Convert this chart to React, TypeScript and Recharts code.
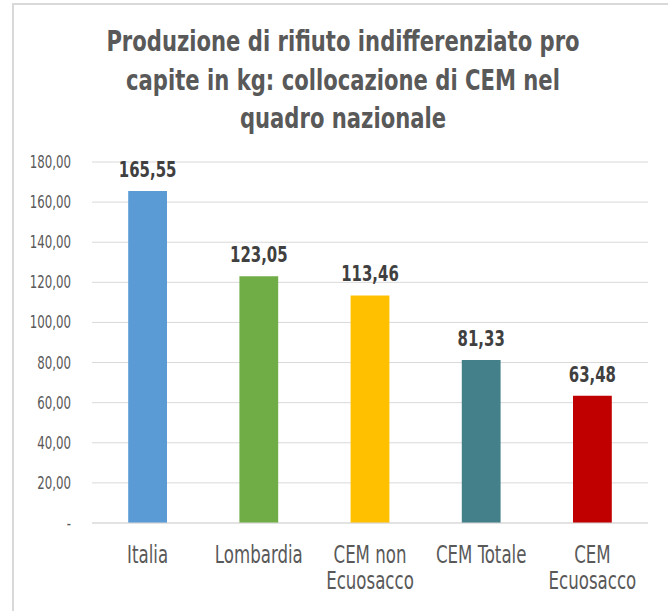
import { Bar, BarChart, CartesianGrid, Cell, LabelList, XAxis, YAxis } from "recharts";

const categories = ["Italia", "Lombardia", "CEM non Ecuosacco", "CEM Totale", "CEM Ecuosacco"];
const values = [165.55, 123.05, 113.46, 81.33, 63.48];
const barColors = ["#5b9bd5", "#70ad47", "#ffc000", "#43808a", "#c00000"];
const yTicks = [0, 20, 40, 60, 80, 100, 120, 140, 160, 180];
const titleLines = [
  "Produzione di rifiuto indifferenziato pro",
  "capite in kg: collocazione di CEM nel",
  "quadro nazionale",
];

const data = categories.map((name, i) => ({ name, value: values[i] }));

// no condensed face available, so squeeze DejaVu horizontally
const FONT = "'DejaVu Sans Condensed', 'DejaVu Sans', sans-serif";

const fmt = (v: number) => (v === 0 ? "-" : v.toFixed(2).replace(".", ","));

const wrapLabel = (s: string): string[] => {
  if (s === "CEM non Ecuosacco") return ["CEM non", "Ecuosacco"];
  if (s === "CEM Ecuosacco") return ["CEM", "Ecuosacco"];
  return [s];
};

const YTick = (props: any) => {
  const { x, y, payload } = props;
  return (
    <g transform={`translate(${x} ${y}) scale(0.77 1)`}>
      <text x={0} y={0} dy={6} textAnchor="end" fill="#595959" fontSize={17} fontFamily={FONT}>
        {fmt(payload.value)}
      </text>
    </g>
  );
};

const XTick = (props: any) => {
  const { x, y, payload } = props;
  const lines = wrapLabel(payload.value);
  return (
    <g transform={`translate(${x} ${y}) scale(0.77 1)`}>
      <text x={0} y={0} textAnchor="middle" fill="#595959" fontSize={24} fontFamily={FONT}>
        {lines.map((l, i) => (
          <tspan key={i} x={0} dy={i === 0 ? 32 : 26}>
            {l}
          </tspan>
        ))}
      </text>
    </g>
  );
};

const ValueLabel = (props: any) => {
  const { x, y, width, value } = props;
  const cx = Number(x) + Number(width) / 2;
  return (
    <g transform={`translate(${cx} ${Number(y) - 14}) scale(0.79 1)`}>
      <text x={0} y={0} textAnchor="middle" fill="#404040" fontSize={21} fontWeight="bold" fontFamily={FONT}>
        {fmt(Number(value))}
      </text>
    </g>
  );
};

export default function App() {
  return (
    <div
      style={{
        position: "fixed",
        left: 0,
        top: 0,
        width: 668,
        height: 611,
        background: "#fff",
        overflow: "hidden",
      }}
    >
      <div
        style={{
          position: "absolute",
          left: 12,
          top: 3,
          width: 700,
          height: 700,
          borderTop: "2px solid #d9d9d9",
          borderLeft: "2px solid #d9d9d9",
        }}
      />
      <div
        style={{
          position: "absolute",
          left: 18,
          top: 22,
          width: 650,
          textAlign: "center",
          fontFamily: FONT,
          fontWeight: "bold",
          fontSize: 29,
          lineHeight: "38.5px",
          color: "#595959",
          transform: "scaleX(0.81)",
          transformOrigin: "center",
        }}
      >
        {titleLines.map((l, i) => (
          <div key={i} style={{ whiteSpace: "nowrap" }}>
            {l}
          </div>
        ))}
      </div>
      <div style={{ position: "absolute", left: 0, top: 0 }}>
        <BarChart
          width={668}
          height={611}
          data={data}
          margin={{ top: 162, right: 20, bottom: 0, left: 0 }}
          barCategoryGap={75}
        >
          <CartesianGrid vertical={false} stroke="#d9d9d9" />
          <XAxis
            dataKey="name"
            height={88}
            interval={0}
            tickLine={false}
            axisLine={{ stroke: "#d9d9d9" }}
            tick={<XTick />}
          />
          <YAxis
            width={92}
            domain={[0, 180]}
            ticks={yTicks}
            tickLine={false}
            axisLine={false}
            tickSize={0}
            tickMargin={21}
            tick={<YTick />}
          />
          <Bar dataKey="value" isAnimationActive={false}>
            {data.map((_, i) => (
              <Cell key={i} fill={barColors[i]} />
            ))}
            <LabelList dataKey="value" content={<ValueLabel />} />
          </Bar>
        </BarChart>
      </div>
    </div>
  );
}
